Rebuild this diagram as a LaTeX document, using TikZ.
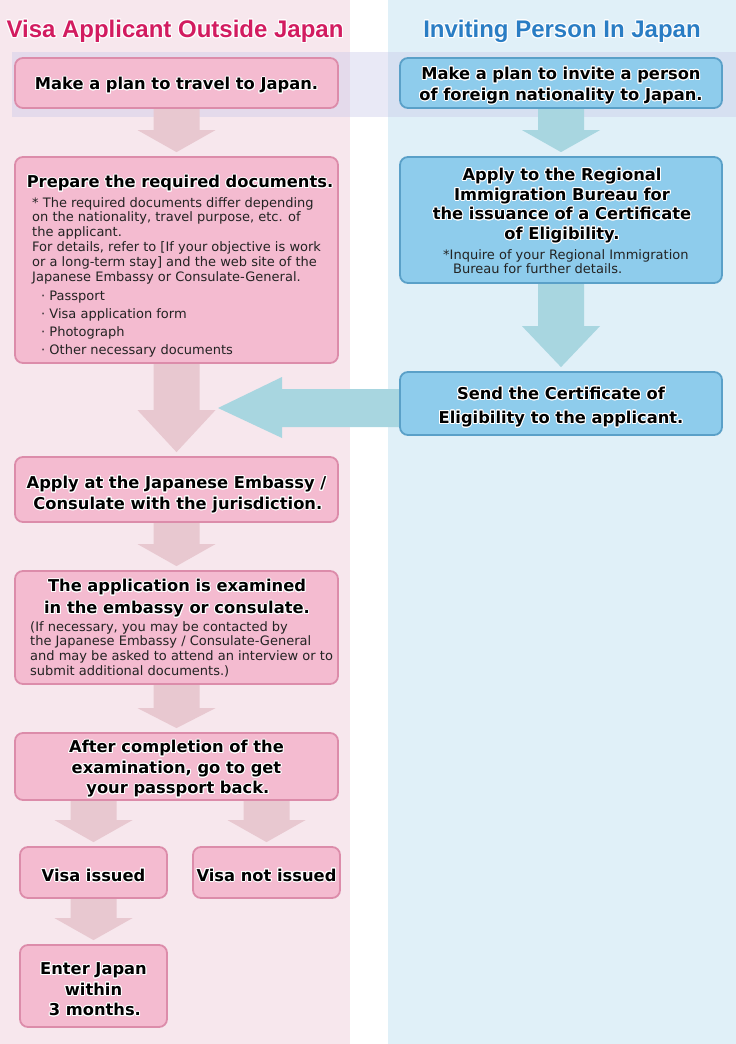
\documentclass[tikz,border=0pt]{standalone}
\usepackage{fontspec}
\setmainfont{DejaVu Sans}
\newfontfamily\hdrfont{Liberation Sans}
\usepackage[copies]{contour}
\contourlength{1pt}
\usetikzlibrary{calc}
\pgfdeclarelayer{bg}
\pgfsetlayers{bg,main}

\definecolor{leftbg}{RGB}{247,231,237}
\definecolor{rightbg}{RGB}{224,240,248}
\definecolor{bandc}{RGB}{200,200,232}
\definecolor{pinkfill}{RGB}{244,187,208}
\definecolor{pinkline}{RGB}{220,140,170}
\definecolor{bluefill}{RGB}{142,204,236}
\definecolor{blueline}{RGB}{90,160,200}
\definecolor{pinkarrow}{RGB}{232,200,208}
\definecolor{bluearrow}{RGB}{168,214,224}
\definecolor{hdrred}{RGB}{210,28,96}
\definecolor{hdrblue}{RGB}{42,125,196}
\definecolor{bodytext}{RGB}{35,35,35}

\newcommand\ol[1]{\contour{white}{#1}}
% #1 style, #2 from node, #3 to node, #4 head length
\newcommand\varrow[4]{%
  \fill[#1] ($(#2.south -| #3.north)+(-23,0)$) -- ($(#2.south -| #3.north)+(23,0)$)
    -- ($(#3.north)+(23,-4-#4)$) -- ($(#3.north)+(39,-4-#4)$) -- ($(#3.north)+(0,-4)$)
    -- ($(#3.north)+(-39,-4-#4)$) -- ($(#3.north)+(-23,-4-#4)$) -- cycle;}

\tikzset{
  pbox/.style={draw=pinkline, fill=pinkfill, line width=1.8pt, rounded corners=8pt,
    inner sep=0pt},
  bbox/.style={pbox, draw=blueline, fill=bluefill},
  ttl/.style={inner sep=0pt, align=center, text=black, font=\bfseries\fontsize{16.3}{20.5}\selectfont},
  bodytxt/.style={inner sep=0pt, align=left, anchor=north west, text=bodytext,
    font=\fontsize{13}{14.8}\selectfont},
  hdr/.style={inner sep=0pt, font=\hdrfont\bfseries\fontsize{24}{28}\selectfont},
  parr/.style={fill=pinkarrow},
  barr/.style={fill=bluearrow}
}

\begin{document}
\begin{tikzpicture}[x=1pt,y=-1pt]
\useasboundingbox (0,0) rectangle (736,1044);

\begin{pgfonlayer}{bg}
  \fill[leftbg] (0,0) rectangle (350,1044);
  \fill[rightbg] (388,0) rectangle (736,1044);
  \fill[bandc, fill opacity=0.4] (12,52) rectangle (736,117);
\end{pgfonlayer}

% headers
\node[hdr, text=hdrred] (hl) at (175,32) {\ol{Visa Applicant Outside Japan}};
\node[hdr, text=hdrblue] (hr) at (562,32) {\ol{Inviting Person In Japan}};

% left column
\node[pbox, minimum width=323pt, minimum height=50pt] (p1) at (176.5,83) {};
\node[ttl] (p1t) at ($(p1)+(0,3)$) {\ol{Make a plan to travel to Japan.}};

\node[pbox, minimum width=323pt, minimum height=206pt] (p2) at (176.5,260) {};
\node[ttl] (p2t) at (180,184) {\ol{Prepare the required documents.}};
\node[bodytxt] (p2b) at (32,197) {* The required documents differ depending\\
on the nationality, travel purpose, etc. of\\
the applicant.\\
For details, refer to [If your objective is work\\
or a long-term stay] and the web site of the\\
Japanese Embassy or Consulate-General.};
\node[bodytxt, font=\fontsize{13}{18}\selectfont] (p2l) at (41,291) {· Passport\\
· Visa application form\\
· Photograph\\
· Other necessary documents};

\node[pbox, minimum width=323pt, minimum height=65pt] (p3) at (176.5,489.5) {};
\node[ttl] (p3t) at ($(p3)+(0,5.5)$) {\ol{Apply at the Japanese Embassy /}\\\ol{\,Consulate with the jurisdiction.}};

\node[pbox, minimum width=323pt, minimum height=113pt] (p4) at (176.5,627.5) {};
\node[ttl, font=\bfseries\fontsize{16.3}{22}\selectfont] (p4t) at (177,599)
  {\ol{The application is examined}\\\ol{in the embassy or consulate.}};
\node[bodytxt] (p4b) at (30,621) {(If necessary, you may be contacted by\\
the Japanese Embassy / Consulate-General\\
and may be asked to attend an interview or to\\
submit additional documents.)};

\node[pbox, minimum width=323pt, minimum height=67pt] (p5) at (176.5,766.5) {};
\node[ttl] (p5t) at ($(p5)+(0,3)$)
  {\ol{After completion of the}\\\ol{examination, go to get}\\\ol{\,your passport back.}};

\node[pbox, minimum width=147pt, minimum height=51pt] (p6) at (93.5,872.5) {};
\node[ttl] (p6t) at ($(p6)+(0,3)$) {\ol{Visa issued}};
\node[pbox, minimum width=147pt, minimum height=51pt] (p7) at (266.5,872.5) {};
\node[ttl] (p7t) at ($(p7)+(0,3)$) {\ol{Visa not issued}};
\node[pbox, minimum width=147pt, minimum height=82pt] (p8) at (93.5,986) {};
\node[ttl] (p8t) at ($(p8)+(0,4)$) {\ol{Enter Japan}\\\ol{within}\\\ol{\,3 months.}};

% right column
\node[bbox, minimum width=322pt, minimum height=50pt] (b1) at (561,83) {};
\node[ttl] (b1t) at ($(b1)+(0,3)$)
  {\ol{Make a plan to invite a person}\\\ol{of foreign nationality to Japan.}};

\node[bbox, minimum width=322pt, minimum height=126pt] (b2) at (561,220) {};
\node[ttl, font=\bfseries\fontsize{16.3}{19.7}\selectfont] (b2t) at (562,206)
  {\ol{Apply to the Regional}\\\ol{Immigration Bureau for}\\\ol{the issuance of a Certificate}\\\ol{of Eligibility.}};
\node[bodytxt] (b2b) at (443,249) {*Inquire of your Regional Immigration\\
\hspace*{10pt}Bureau for further details.};

\node[bbox, minimum width=322pt, minimum height=63pt] (b3) at (561,403.5) {};
\node[ttl, font=\bfseries\fontsize{16.3}{24}\selectfont] (b3t) at ($(b3)+(0,4)$)
  {\ol{Send the Certificate of}\\\ol{Eligibility to the applicant.}};

\coordinate (ht) at (218,408);

% arrows
\begin{pgfonlayer}{bg}
  \varrow{parr}{p1}{p2}{22}
  \varrow{parr}{p2}{p3}{42}
  \varrow{parr}{p3}{p4}{22}
  \varrow{parr}{p4}{p5}{20}
  \varrow{parr}{p5}{p6}{22}
  \varrow{parr}{p5}{p7}{22}
  \varrow{parr}{p6}{p8}{22}
  \varrow{barr}{b1}{b2}{22}
  \varrow{barr}{b2}{b3}{41}
  \fill[barr] ($(b3.west)+(3,-14.5)$) -- ($(ht)+(64,-19)$) -- ($(ht)+(64,-31)$) -- (ht)
    -- ($(ht)+(64,30)$) -- ($(ht)+(64,19)$) -- ($(b3.west)+(3,23.5)$) -- cycle;
\end{pgfonlayer}
\end{tikzpicture}
\end{document}
